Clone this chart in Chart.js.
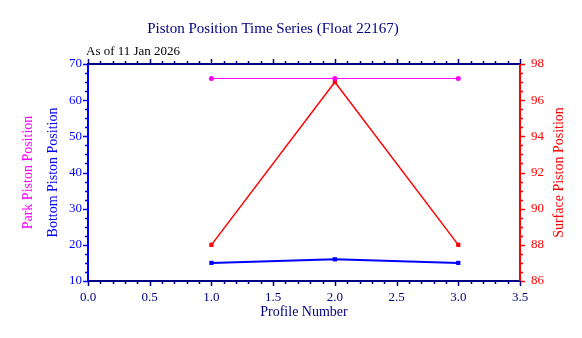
<!DOCTYPE html>
<html>
<head>
<meta charset="utf-8">
<title>Piston Position Time Series</title>
<script src="https://cdn.jsdelivr.net/npm/chart.js@4/dist/chart.umd.min.js"></script>
<style>
  body { margin: 0; background: #fff; }
  #wrap { width: 582px; height: 338px; }
</style>
</head>
<body>
<div id="wrap"><canvas id="pistonChart" width="582" height="338"></canvas></div>
<script>
// chart values
const profiles = [1, 2, 3];
const parkPiston = [66, 66, 66];
const bottomPiston = [15, 16, 15];
const surfacePiston = [88, 97, 88];

const NAVY = "#000080";
const FONT = "'Liberation Serif', 'Times New Roman', serif";

// pair the profile numbers with one series
function points(values) {
  return profiles.map((p, i) => ({ x: p, y: values[i] }));
}

// axis lines, outward ticks (major + minor) and the free text round the plot
const frame = {
  id: "frame",
  afterDraw(chart) {
    const ctx = chart.ctx;
    const a = chart.chartArea;
    const sx = chart.scales.x, sy = chart.scales.y, sy2 = chart.scales.y2;
    ctx.save();

    // x ticks, top and bottom, every 0.1
    ctx.strokeStyle = NAVY;
    ctx.lineWidth = 1.5;
    for (let i = 0; i <= 35; i++) {
      const px = Math.round(sx.getPixelForValue(i / 10)) + 0.5;
      const len = i % 5 === 0 ? 5 : 3;
      ctx.beginPath();
      ctx.moveTo(px, a.top); ctx.lineTo(px, a.top - len);
      ctx.moveTo(px, a.bottom); ctx.lineTo(px, a.bottom + len);
      ctx.stroke();
    }
    // left ticks every 2.5
    ctx.strokeStyle = "#0000ff";
    for (let i = 0; i <= 24; i++) {
      const py = Math.round(sy.getPixelForValue(10 + i * 2.5)) + 0.5;
      const len = i % 4 === 0 ? 5 : 3;
      ctx.beginPath();
      ctx.moveTo(a.left, py); ctx.lineTo(a.left - len, py);
      ctx.stroke();
    }
    // right ticks every 0.5
    ctx.strokeStyle = "#ff0000";
    for (let i = 0; i <= 24; i++) {
      const py = Math.round(sy2.getPixelForValue(86 + i * 0.5)) + 0.5;
      const len = i % 4 === 0 ? 5 : 3;
      ctx.beginPath();
      ctx.moveTo(a.right, py); ctx.lineTo(a.right + len, py);
      ctx.stroke();
    }

    // axis lines
    ctx.lineWidth = 2;
    ctx.strokeStyle = NAVY;
    ctx.beginPath();
    ctx.moveTo(a.left - 1, a.top); ctx.lineTo(a.right + 1, a.top);
    ctx.moveTo(a.left - 1, a.bottom); ctx.lineTo(a.right + 1, a.bottom);
    ctx.stroke();
    ctx.strokeStyle = "#0000ff";
    ctx.beginPath(); ctx.moveTo(a.left, a.top); ctx.lineTo(a.left, a.bottom); ctx.stroke();
    ctx.strokeStyle = "#ff0000";
    ctx.beginPath(); ctx.moveTo(a.right, a.top); ctx.lineTo(a.right, a.bottom); ctx.stroke();

    // titles
    ctx.textBaseline = "alphabetic";
    ctx.textAlign = "center";
    ctx.fillStyle = NAVY;
    ctx.font = "15px " + FONT;
    ctx.fillText("Piston Position Time Series (Float 22167)", 273, 33);
    ctx.textAlign = "left";
    ctx.fillStyle = "#000";
    ctx.font = "13px " + FONT;
    ctx.fillText("As of 11 Jan 2026", 86, 55);

    // vertical axis titles, all reading bottom to top
    const midY = (a.top + a.bottom) / 2;
    const vtext = (txt, x, color) => {
      ctx.save();
      ctx.translate(x, midY);
      ctx.rotate(-Math.PI / 2);
      ctx.textAlign = "center";
      ctx.fillStyle = color;
      ctx.font = "14px " + FONT;
      ctx.fillText(txt, 0, 0);
      ctx.restore();
    };
    vtext("Park Piston Position", 32, "#ff00ff");
    vtext("Bottom Piston Position", 56.5, "#0000ff");
    vtext("Surface Piston Position", 563, "#ff0000");

    ctx.restore();
  },
};

new Chart(document.getElementById("pistonChart"), {
  type: "line",
  data: {
    datasets: [
      {
        label: "Park Piston Position",
        data: points(parkPiston),
        yAxisID: "y",
        borderColor: "#ff00ff",
        backgroundColor: "#ff00ff",
        borderWidth: 1,
        pointStyle: "circle",
        pointRadius: 2.5,
        pointBorderWidth: 0,
      },
      {
        label: "Surface Piston Position",
        data: points(surfacePiston),
        yAxisID: "y2",
        borderColor: "#ff0000",
        backgroundColor: "#ff0000",
        borderWidth: 1.5,
        pointStyle: "rect",
        pointRadius: 3,
        pointBorderWidth: 0,
      },
      {
        label: "Bottom Piston Position",
        data: points(bottomPiston),
        yAxisID: "y",
        borderColor: "#0000ff",
        backgroundColor: "#0000ff",
        borderWidth: 2,
        pointStyle: "rect",
        pointRadius: 3,
        pointBorderWidth: 0,
      },
    ],
  },
  options: {
    responsive: false,
    animation: false,
    devicePixelRatio: 1,
    layout: { padding: { top: 64, left: 0, right: 0, bottom: 0 } },
    plugins: {
      legend: { display: false },
      tooltip: { enabled: false },
    },
    elements: { line: { tension: 0 } },
    scales: {
      x: {
        type: "linear",
        min: 0,
        max: 3.5,
        grid: { display: false, drawTicks: false },
        border: { display: false },
        ticks: {
          stepSize: 0.5,
          padding: 9,
          color: NAVY,
          font: { family: FONT, size: 13 },
          callback: (v) => v.toFixed(1),
        },
        title: {
          display: true,
          text: "Profile Number",
          color: NAVY,
          font: { family: FONT, size: 14 },
          padding: { top: 0, bottom: 17 },
        },
        afterFit: (s) => { s.height = 57; },
      },
      y: {
        position: "left",
        min: 10,
        max: 70,
        grid: { display: false, drawTicks: false },
        border: { display: false },
        ticks: {
          stepSize: 10,
          padding: 6,
          color: "#0000ff",
          font: { family: FONT, size: 13 },
        },
        afterFit: (s) => { s.width = 88; },
      },
      y2: {
        position: "right",
        min: 86,
        max: 98,
        grid: { display: false, drawTicks: false },
        border: { display: false },
        ticks: {
          stepSize: 2,
          padding: 11,
          color: "#ff0000",
          font: { family: FONT, size: 13 },
        },
        afterFit: (s) => { s.width = 62; },
      },
    },
  },
  plugins: [frame],
});
</script>
</body>
</html>
